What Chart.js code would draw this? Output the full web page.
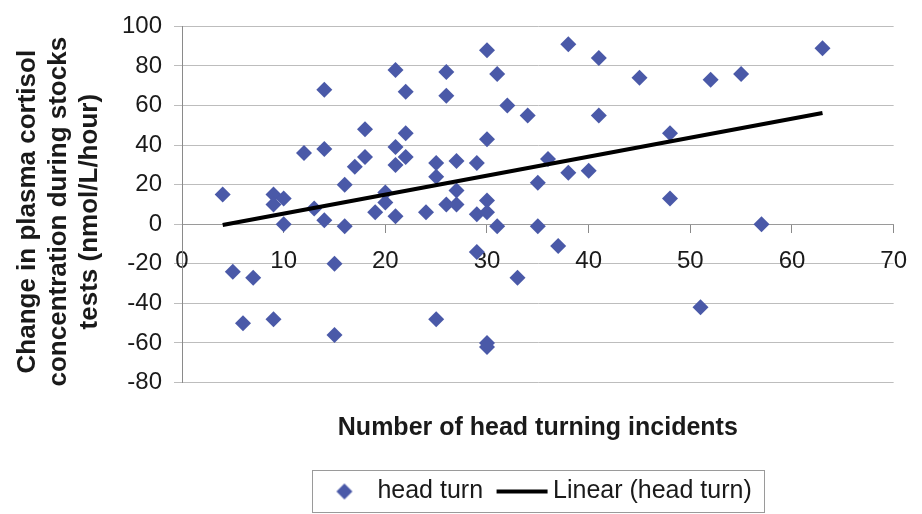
<!DOCTYPE html>
<html>
<head>
<meta charset="utf-8">
<script src="https://cdn.jsdelivr.net/npm/chart.js@4.4.1/dist/chart.umd.min.js"></script>
<style>
  html, body { margin: 0; padding: 0; background: #fff; }
  #wrap { width: 922px; height: 514px; position: relative; }
</style>
</head>
<body>
<div id="wrap"><canvas id="chart"></canvas></div>
<script>
// number of head turning incidents per animal
const headTurns = [
  4, 9, 10, 9, 16, 20, 13, 20, 19, 21, 10, 14, 16,
  21, 14, 22, 18, 22, 12, 14, 21, 18, 17, 22, 21,
  30, 38, 41, 26, 31, 45, 26, 32, 34, 41, 30,
  25, 27, 29, 25, 36, 38, 40, 27, 35, 24, 26, 27, 30, 29, 30, 31, 35,
  52, 55, 63, 48, 48, 57,
  5, 7, 15, 6, 9, 15,
  29, 37, 33, 25, 30, 30, 51
];
// change in plasma cortisol (nmol/L/hour)
const cortisolChange = [
  15, 15, 13, 10, 20, 16, 8, 11, 6, 4, 0, 2, -1,
  78, 68, 67, 48, 46, 36, 38, 39, 34, 29, 34, 30,
  88, 91, 84, 77, 76, 74, 65, 60, 55, 55, 43,
  31, 32, 31, 24, 33, 26, 27, 17, 21, 6, 10, 10, 12, 5, 6, -1, -1,
  73, 76, 89, 46, 13, 0,
  -24, -27, -20, -50, -48, -56,
  -14, -11, -27, -48, -60, -62, -42
];
// linear trend line as drawn in the picture
const trendX = [4, 63];
const trendY = [-0.4, 56.2];

const xTicks = [0, 10, 20, 30, 40, 50, 60, 70];
const yTicks = [-80, -60, -40, -20, 0, 20, 40, 60, 80, 100];

const markerColor = '#4a59a8';

Chart.defaults.font.family = "'Liberation Sans', Arial, sans-serif";
Chart.defaults.color = '#1a1a1a';

// legend symbols
const diamondImg = document.createElement('canvas');
diamondImg.width = 18; diamondImg.height = 18;
(function () {
  const c = diamondImg.getContext('2d');
  c.fillStyle = markerColor;
  c.beginPath();
  c.moveTo(9, 1); c.lineTo(17, 9); c.lineTo(9, 17); c.lineTo(1, 9);
  c.closePath(); c.fill();
})();
const lineImg = document.createElement('canvas');
lineImg.width = 57; lineImg.height = 6;
(function () {
  const c = lineImg.getContext('2d');
  c.fillStyle = '#000';
  c.fillRect(5, 1, 51, 4);
})();

const legendFrame = {
  id: 'legendFrame',
  afterDraw(chart) {
    const boxes = chart.legend.legendHitBoxes;
    if (!boxes || !boxes.length) return;
    const first = boxes[0], last = boxes[boxes.length - 1];
    const left = first.left - 12, right = last.left + last.width + 12;
    const top = first.top - 9, bottom = first.top + first.height + 8;
    const ctx = chart.ctx;
    ctx.save();
    ctx.strokeStyle = '#9a9a9a';
    ctx.lineWidth = 1;
    ctx.strokeRect(Math.round(left) + 0.5, Math.round(top) + 0.5, Math.round(right - left), Math.round(bottom - top));
    ctx.restore();
  }
};

const points = headTurns.map((x, i) => ({ x: x, y: cortisolChange[i] }));
const trend = trendX.map((x, i) => ({ x: x, y: trendY[i] }));

new Chart(document.getElementById('chart').getContext('2d'), {
  type: 'scatter',
  data: {
    datasets: [{
      label: 'head turn',
      data: points,
      order: 1,
      pointStyle: 'rectRot',
      pointRadius: 8,
      pointHoverRadius: 8,
      backgroundColor: markerColor,
      borderColor: markerColor,
      borderWidth: 0
    }, {
      type: 'line',
      label: 'Linear (head turn)',
      data: trend,
      order: 0,
      borderColor: '#000',
      borderWidth: 4,
      pointRadius: 0,
      fill: false
    }]
  },
  options: {
    responsive: true,
    maintainAspectRatio: false,
    animation: false,
    layout: { padding: { top: 18, right: 20, bottom: 0, left: 0 } },
    scales: {
      x: {
        type: 'linear',
        position: { y: 0 },
        min: xTicks[0],
        max: xTicks[xTicks.length - 1],
        ticks: { stepSize: 10, padding: 15, font: { size: 24 }, color: '#1a1a1a' },
        grid: { drawOnChartArea: false, drawTicks: true, tickLength: 8, color: '#8a8a8a' },
        border: { display: true, color: '#9a9a9a' }
      },
      y: {
        min: yTicks[0],
        max: yTicks[yTicks.length - 1],
        ticks: { stepSize: 20, padding: 12, font: { size: 24 }, color: '#1a1a1a' },
        grid: { color: '#bdbdbd', tickLength: 8 },
        border: { display: true, color: '#8a8a8a' },
        title: {
          display: true,
          // trailing spaces nudge the rotated lines a little lower, as in the original
          text: ['Change in plasma cortisol  ', 'concentration during stocks  ', 'tests (nmol/L/hour)  '],
          font: { size: 26, weight: 'bold', lineHeight: 1.2 },
          color: '#1a1a1a',
          padding: { top: 12, bottom: 0 }
        },
        afterFit(scale) { scale.width = 182; }
      }
    },
    plugins: {
      title: {
        display: true,
        position: 'bottom',
        fullSize: false,
        text: 'Number of head turning incidents',
        font: { size: 25, weight: 'bold', lineHeight: 1.2 },
        color: '#1a1a1a',
        padding: { top: 31, bottom: 19 }
      },
      legend: {
        position: 'bottom',
        fullSize: false,
        weight: 3000,
        labels: {
          usePointStyle: true,
          pointStyleWidth: 41,
          padding: 16.5,
          font: { size: 25 },
          color: '#1a1a1a',
          generateLabels(chart) {
            const items = Chart.defaults.plugins.legend.labels.generateLabels(chart);
            items.sort((a, b) => a.datasetIndex - b.datasetIndex);
            items.forEach(it => { it.pointStyle = it.datasetIndex === 0 ? diamondImg : lineImg; });
            return items;
          }
        }
      },
      tooltip: { enabled: false }
    }
  },
  plugins: [legendFrame]
});
</script>
</body>
</html>
